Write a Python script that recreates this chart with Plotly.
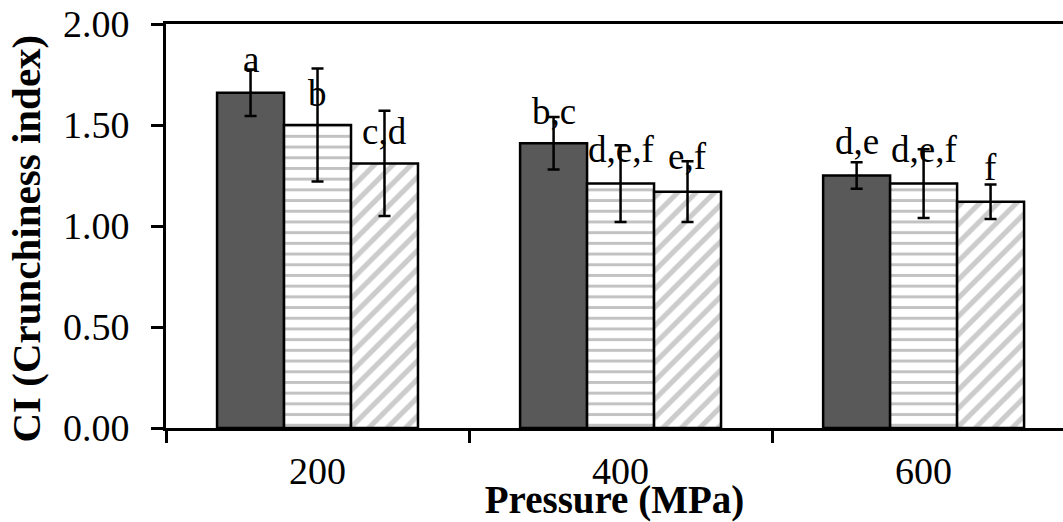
import plotly.graph_objects as go

# ---- data ----
pressures = ["200", "400", "600"]
series_names = ["Series A", "Series B", "Series C"]
ci_a = [1.66, 1.41, 1.25]
ci_b = [1.50, 1.21, 1.21]
ci_c = [1.31, 1.17, 1.12]
err_a = [0.115, 0.13, 0.065]
err_b = [0.28, 0.19, 0.17]
err_c = [0.26, 0.15, 0.085]
labels_a = ["a", "b,c", "d,e"]
labels_b = ["b", "d,e,f", "d,e,f"]
labels_c = ["c,d", "e,f", "f"]
# baseline height (in CI units) of each letter label
label_y_a = [1.763, 1.506, 1.358]
label_y_b = [1.595, 1.317, 1.317]
label_y_c = [1.407, 1.281, 1.226]
y_ticks = [0, 0.5, 1.0, 1.5, 2.0]

FONT = "Liberation Serif"
BARGAP = 0.337
bar_w = (1 - BARGAP) / 3

fig = go.Figure()

styles = [
    dict(color="#595959"),
    dict(color="white", pattern=dict(shape="-", fgcolor="#858585", bgcolor="white",
                                     size=10.7, solidity=0.28, fillmode="overlay")),
    dict(color="white", pattern=dict(shape="/", fgcolor="#9a9a9a", bgcolor="white",
                                     size=13, solidity=0.4, fillmode="overlay")),
]
values = [ci_a, ci_b, ci_c]
errors = [err_a, err_b, err_c]
for name, vals, errs, st in zip(series_names, values, errors, styles):
    fig.add_trace(go.Bar(
        x=pressures, y=vals, name=name,
        marker=dict(line=dict(color="black", width=2.5), **st),
        error_y=dict(type="data", array=errs, visible=True, color="black",
                     thickness=2.5, width=6),
        showlegend=False,
    ))

annos = []
for j, (labs, ly) in enumerate(zip([labels_a, labels_b, labels_c],
                                   [label_y_a, label_y_b, label_y_c])):
    for i, (t, yv) in enumerate(zip(labs, ly)):
        annos.append(dict(
            x=i + (j - 1) * bar_w, y=yv, xref="x", yref="y", text=t,
            showarrow=False, xanchor="center", yanchor="bottom", yshift=-10,
            font=dict(family=FONT, size=37, color="black"),
        ))

# y-axis title (placed as rotated text to match reference vertical centring)
annos.append(dict(
    text="<b>CI (Crunchiness index)</b>", xref="paper", yref="paper",
    x=0, y=0.469, xshift=-140, xanchor="center", yanchor="middle",
    textangle=-90, showarrow=False,
    font=dict(family=FONT, size=41, color="black"),
))

fig.update_layout(
    width=1063, height=522,
    margin=dict(l=166, r=0, t=24, b=94, pad=0),
    paper_bgcolor="white", plot_bgcolor="white",
    barmode="group", bargap=BARGAP, bargroupgap=0,
    font=dict(family=FONT, size=38, color="black"),
    annotations=annos,
    xaxis=dict(
        type="category", range=[-0.5, 2.46],
        showline=True, linecolor="black", linewidth=3, mirror=True,
        ticks="outside", tickson="boundaries", ticklen=12, tickwidth=3, tickcolor="black",
        tickfont=dict(family=FONT, size=38, color="black"),
        ticklabelstandoff=7,
        showgrid=False, zeroline=False,
        title=dict(text="<b>Pressure (MPa)</b>", font=dict(family=FONT, size=39, color="black"),
                   standoff=0),
    ),
    yaxis=dict(
        range=[0, 2], tickvals=y_ticks, tickformat=".2f",
        showline=True, linecolor="black", linewidth=3, mirror=False,
        ticks="outside", ticklen=12, tickwidth=3, tickcolor="black",
        tickfont=dict(family=FONT, size=38, color="black"),
        ticklabelstandoff=14,
        showgrid=False, zeroline=False,
    ),
)

fig.write_html("out.html")
